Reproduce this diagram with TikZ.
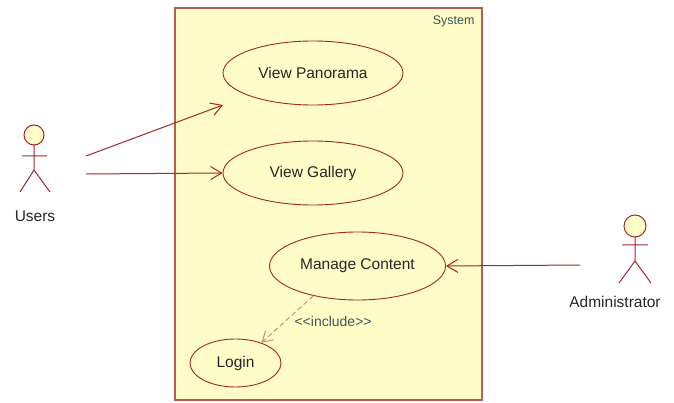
\documentclass[tikz,border=0pt]{standalone}
\usepackage{fontspec}
\setmainfont{Liberation Sans}
\usetikzlibrary{shapes.geometric,arrows.meta}
\definecolor{umlred}{RGB}{160,40,40}
\definecolor{umlfill}{RGB}{255,252,200}
\definecolor{umlbox}{RGB}{180,95,85}
\definecolor{umlnote}{RGB}{60,85,85}
\definecolor{umldash}{RGB}{205,145,115}

\begin{document}
\begin{tikzpicture}[x=1pt,y=-1pt,
        usecase/.style={ellipse,draw=umlred,fill=umlfill,line width=0.9pt,inner sep=0pt,
          font=\fontsize{15.5}{18}\selectfont,text=black!85},
        assoc/.style={draw=umlred,line width=1pt,-{Straight Barb[length=11pt,width=13pt]}},
        actor/.style={draw=umlred,line width=1pt},
        label/.style={font=\fontsize{15.5}{18}\selectfont,text=black!85}]
        \useasboundingbox (0,0) rectangle (674,403);
        % system boundary
        \filldraw [draw=umlbox,fill=umlfill,line width=1.5pt] (175,8) rectangle (482,400);
        \node (system) [anchor=north east,text=umlnote,font=\fontsize{12.5}{14}\selectfont] at (478,12) {System};
        % use cases
        \node (panorama) [usecase,minimum width=180pt,minimum height=64pt] at (313,73) {View Panorama};
        \node (gallery) [usecase,minimum width=180pt,minimum height=64pt] at (313,173) {View Gallery};
        \node (manage) [usecase,minimum width=176pt,minimum height=68pt] at (357.5,266) {Manage Content};
        \node (login) [usecase,minimum width=91pt,minimum height=48pt] at (235.5,363) {Login};
        % actor: users
        \filldraw [actor,fill=umlfill] (34,135)circle[radius=10];
        \draw [actor] (34,145)--(34,170) (22,156)--(47,156) (20,192)--(34,170)--(50,192);
        \node (users) [label] at (35,216) {Users};
        % actor: administrator
        \filldraw [actor,fill=umlfill] (635,226)circle[radius=11];
        \draw [actor] (635,237)--(635,261) (622,245)--(648,245) (619,283)--(635,261)--(651,283);
        \node (admin) [label] at (615,302) {Administrator};
        % connectors
        \coordinate (users top) at (86,156);
        \coordinate (users low) at (86,174);
        \coordinate (pano in) at (223,105);
        \coordinate (admin out) at (580,265);
        \draw [assoc] (users top) -- (pano in);
        \draw [assoc] (users low) -- (gallery.west);
        \draw [assoc] (admin out) -- (manage.east);
        \draw [draw=umldash,line width=1pt,dash pattern=on 5pt off 3pt,
          -{Straight Barb[length=10pt,width=12pt]}] (manage.214) -- (login.38)
          node [pos=0.55,right=6pt,text=umlnote,font=\fontsize{14}{16}\selectfont] {{<}{<}include{>}{>}};
      \end{tikzpicture}
\end{document}
